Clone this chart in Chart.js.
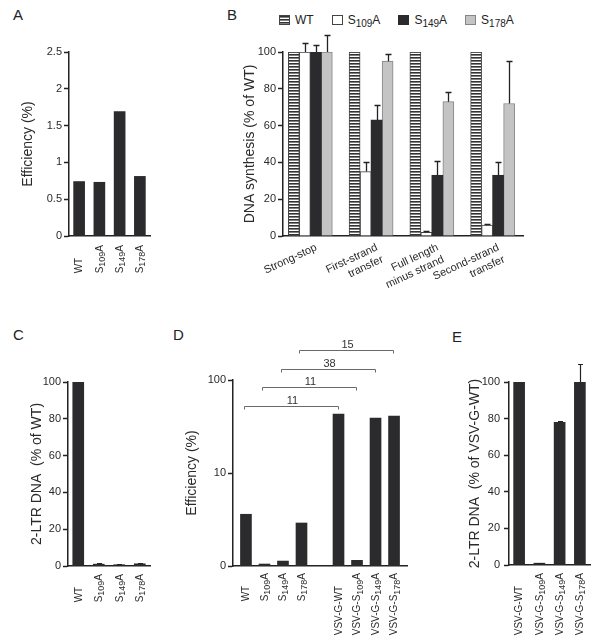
<!DOCTYPE html>
<html><head><meta charset="utf-8">
<script src="https://cdn.jsdelivr.net/npm/chart.js@4/dist/chart.umd.min.js"></script>
<style>
html,body{margin:0;padding:0;background:#fff;overflow:hidden;}
body{width:600px;height:636px;position:relative;font-family:'Liberation Sans','DejaVu Sans',Arial,sans-serif;color:#222;}
.letter{position:absolute;font-size:15px;line-height:15px;color:#222;}
#legendB{position:absolute;left:279px;top:13px;font-size:12px;line-height:14px;color:#222;display:flex;align-items:center;white-space:nowrap;}
#legendB .item{display:flex;align-items:center;margin-right:18px;}
#legendB .sw{width:11px;height:10px;box-sizing:border-box;margin-right:5px;}
#legendB sub{font-size:10px;vertical-align:-3px;line-height:0;}
canvas{position:absolute;}
</style></head><body>
<div class="letter" style="left:13px;top:7px">A</div>
<div class="letter" style="left:227px;top:7px">B</div>
<div class="letter" style="left:13px;top:327px">C</div>
<div class="letter" style="left:173px;top:327px">D</div>
<div class="letter" style="left:452px;top:329px">E</div>
<div id="legendB"></div>
<script>
// ---------- DATA ----------
// Panel A
const aCategories = ['WT', 'S₁₀₉A', 'S₁₄₉A', 'S₁₇₈A'];
const aValues = [0.74, 0.73, 1.69, 0.81];
const aTicks = [0, 0.5, 1, 1.5, 2, 2.5];
// Panel B
const bCategories = ['Strong-stop', ['First-strand', 'transfer'], ['Full length', 'minus strand'], ['Second-strand', 'transfer']];
const bSeries = ['WT', 'S₁₀₉A', 'S₁₄₉A', 'S₁₇₈A'];
const bWT = [100, 100, 100, 100];
const bS109A = [100, 35, 2, 6];
const bS149A = [100, 63, 33, 33];
const bS178A = [100, 95, 73, 72];
const bErrWT = [0, 0, 0, 0];
const bErrS109A = [5, 5, 0.6, 0.5];
const bErrS149A = [4, 8, 8, 7];
const bErrS178A = [9, 4, 5, 23];
const bTicks = [0, 20, 40, 60, 80, 100];
// Panel C
const cCategories = ['WT', 'S₁₀₉A', 'S₁₄₉A', 'S₁₇₈A'];
const cValues = [100, 1.0, 0.7, 1.2];
const cErrors = [0, 0.4, 0.3, 0.4];
const cTicks = [0, 20, 40, 60, 80, 100];
// Panel D
const dCategories = ['WT', 'S₁₀₉A', 'S₁₄₉A', 'S₁₇₈A', '', 'VSV-G-WT', 'VSV-G-S₁₀₉A', 'VSV-G-S₁₄₉A', 'VSV-G-S₁₇₈A'];
const dValues = [3.6, 1.05, 1.13, 2.9, null, 43, 1.15, 39, 41];
const dTickValues = [1, 10, 100];
const dTickLabels = ['0', '10', '100'];
const dBracketPairs = [[0, 5], [1, 6], [2, 7], [3, 8]];
const dBracketLabels = ['11', '11', '38', '15'];
// Panel E
const eCategories = ['VSV-G-WT', 'VSV-G-S₁₀₉A', 'VSV-G-S₁₄₉A', 'VSV-G-S₁₇₈A'];
const eValues = [100, 1, 78, 100];
const eErrors = [0, 0.3, 0.6, 10];
const eTicks = [0, 20, 40, 60, 80, 100];

// ---------- STYLE ----------
const FONT = "'Liberation Sans', 'DejaVu Sans', Arial, sans-serif";
const AXIS = '#222';
const TXT = '#2a2a2a';
const DARK = '#2b2b2e';
const GRAY = '#c4c4c4';
Chart.defaults.font.family = FONT;
Chart.defaults.color = TXT;
Chart.defaults.animation = false;

function hatchPattern() {
  const p = document.createElement('canvas');
  p.width = 4; p.height = 3;
  const g = p.getContext('2d');
  g.fillStyle = '#fff'; g.fillRect(0, 0, 4, 3);
  g.fillStyle = '#333'; g.fillRect(0, 0, 4, 1);
  g.fillStyle = '#808080'; g.fillRect(0, 1, 4, 1);
  return g.createPattern(p, 'repeat');
}
const HATCH = hatchPattern();

function makeCanvas(left, top, w, h) {
  const c = document.createElement('canvas');
  c.width = w; c.height = h;
  c.style.left = left + 'px'; c.style.top = top + 'px';
  c.style.width = w + 'px'; c.style.height = h + 'px';
  document.body.appendChild(c);
  return c;
}

// rich text (subscript digits drawn smaller and lowered)
const SUBMAP = { '₀': '0', '₁': '1', '₂': '2', '₃': '3', '₄': '4', '₅': '5', '₆': '6', '₇': '7', '₈': '8', '₉': '9' };
function runs(text) {
  const out = [];
  let cur = '', sub = false;
  for (const ch of text) {
    const isSub = ch in SUBMAP;
    if (isSub !== sub && cur) { out.push({ t: cur, sub }); cur = ''; }
    sub = isSub;
    cur += isSub ? SUBMAP[ch] : ch;
  }
  if (cur) out.push({ t: cur, sub });
  return out;
}
function richWidth(ctx, text, size, subSize) {
  let w = 0;
  runs(text).forEach(r => { ctx.font = (r.sub ? subSize : size) + 'px ' + FONT; w += ctx.measureText(r.t).width; });
  return w;
}
function drawRich(ctx, text, x, y, size, subSize, drop) {
  runs(text).forEach(r => {
    ctx.font = (r.sub ? subSize : size) + 'px ' + FONT;
    ctx.fillText(r.t, x, y + (r.sub ? drop : 0));
    x += ctx.measureText(r.t).width;
  });
}

// ---------- PLUGINS ----------
const errorBars = {
  id: 'errorBars',
  afterDatasetsDraw(chart, args, opts) {
    const ctx = chart.ctx, ys = chart.scales.y;
    chart.data.datasets.forEach((ds, di) => {
      if (!ds.errors) return;
      const meta = chart.getDatasetMeta(di);
      meta.data.forEach((bar, j) => {
        const e = ds.errors[j];
        if (!e) return;
        const v = meta.controller.getParsed(j).y;
        const y1 = ys.getPixelForValue(v);
        const y2 = Math.round(ys.getPixelForValue(v + e)) + 0.5;
        const x = Math.round(bar.x) + 0.5;
        ctx.save();
        ctx.strokeStyle = opts.color || '#222';
        ctx.lineWidth = opts.width || 1.2;
        ctx.beginPath();
        ctx.moveTo(x, y1); ctx.lineTo(x, y2);
        ctx.moveTo(x - opts.cap / 2, y2); ctx.lineTo(x + opts.cap / 2, y2);
        ctx.stroke();
        ctx.restore();
      });
    });
  }
};

const vLabels = {
  id: 'vLabels',
  afterDraw(chart, args, opts) {
    const labels = opts.labels;
    if (!labels) return;
    const size = opts.size || 10, subSize = opts.subSize || 9, drop = opts.drop || 2.5;
    const xs = chart.scales.x, ctx = chart.ctx;
    ctx.save();
    ctx.fillStyle = TXT;
    ctx.textBaseline = 'middle';
    ctx.textAlign = 'left';
    const groups = [];
    let cur = [];
    labels.forEach((l, i) => {
      if (l === '') { if (cur.length) groups.push(cur); cur = []; }
      else cur.push(i);
    });
    if (cur.length) groups.push(cur);
    const y0 = xs.top + opts.gap;
    groups.forEach(g => {
      const maxW = Math.max(...g.map(i => richWidth(ctx, labels[i], size, subSize)));
      g.forEach(i => {
        const x = xs.getPixelForValue(i);
        ctx.save();
        ctx.translate(x + 0.5, y0 + maxW);
        ctx.rotate(-Math.PI / 2);
        drawRich(ctx, labels[i], 0, 0, size, subSize, drop);
        ctx.restore();
      });
    });
    ctx.restore();
  }
};

const brackets = {
  id: 'brackets',
  afterDraw(chart, args, opts) {
    const xs = chart.scales.x, ctx = chart.ctx;
    const top = chart.chartArea.top;
    ctx.save();
    ctx.font = '11px ' + FONT;
    ctx.textAlign = 'center';
    ctx.textBaseline = 'alphabetic';
    opts.pairs.forEach((p, k) => {
      const x1 = Math.round(xs.getPixelForValue(p[0]) - 2) + 0.5;
      const x2 = Math.round(xs.getPixelForValue(p[1]) - 1) + 0.5;
      const y = Math.round(top + opts.base - k * opts.step) + 0.5;
      ctx.strokeStyle = '#6a6a6a';
      ctx.lineWidth = 1;
      ctx.beginPath();
      ctx.moveTo(x1, y + opts.drop); ctx.lineTo(x1, y); ctx.lineTo(x2, y); ctx.lineTo(x2, y + opts.drop);
      ctx.stroke();
      ctx.fillStyle = '#333';
      ctx.fillText(opts.labels[k], (x1 + x2) / 2 + 1, y - 3);
    });
    ctx.restore();
  }
};

// ---------- HELPERS ----------
function yAxis(title, width, extra) {
  return Object.assign({
    position: 'left',
    grid: { display: true, drawOnChartArea: false, drawTicks: true, tickLength: 5, tickWidth: 1.5, tickColor: AXIS },
    border: { display: true, color: AXIS, width: 1.5 },
    ticks: { font: { size: 11 }, color: TXT, padding: 2, autoSkip: false },
    title: { display: true, text: title, font: { size: 14 }, color: TXT, padding: 0 },
    afterFit: s => { s.width = width; }
  }, extra);
}
function linTicks(arr) {
  return {
    type: 'linear', min: arr[0], max: arr[arr.length - 1],
    afterBuildTicks: s => { s.ticks = arr.map(v => ({ value: v })); },
  };
}
function yLinear(title, width, arr) {
  const y = yAxis(title, width, linTicks(arr));
  y.ticks.callback = v => String(v);
  return y;
}
function xHidden(height, extra) {
  return Object.assign({
    type: 'category',
    grid: { display: false, drawTicks: false },
    border: { display: true, color: AXIS, width: 1.5 },
    ticks: { display: false },
    afterFit: s => { s.height = height; }
  }, extra);
}
function opts(padding, x, y, plugins) {
  return {
    responsive: false, animation: false, events: [],
    layout: { autoPadding: false, padding },
    plugins: Object.assign({ legend: { display: false }, tooltip: { enabled: false } }, plugins),
    scales: { x, y }
  };
}

// ---------- PANEL A ----------
new Chart(makeCanvas(0, 0, 200, 320), {
  type: 'bar',
  data: { labels: aCategories, datasets: [{ data: aValues, backgroundColor: DARK, borderWidth: 0, barThickness: 11 }] },
  options: opts({ left: 19.6, top: 52, right: 50, bottom: 24 },
    xHidden(60), yLinear('Efficiency (%)', 49.4, aTicks),
    { vLabels: { labels: aCategories, gap: 9 } }),
  plugins: [vLabels]
});

// ---------- PANEL B ----------
const bStyles = [
  { backgroundColor: HATCH, borderColor: '#444', borderWidth: 1 },
  { backgroundColor: '#ffffff', borderColor: '#444', borderWidth: 1 },
  { backgroundColor: DARK, borderColor: DARK, borderWidth: 0 },
  { backgroundColor: GRAY, borderColor: '#858585', borderWidth: 1 }
];
const bData = [bWT, bS109A, bS149A, bS178A];
const bErr = [bErrWT, bErrS109A, bErrS149A, bErrS178A];
const bX = {
  type: 'linear', min: -0.45, max: 3.5, offset: false,
  grid: { display: false, drawTicks: false },
  border: { display: true, color: AXIS, width: 1.5 },
  ticks: { display: true, autoSkip: false, minRotation: 25, maxRotation: 25, font: { size: 11 }, color: TXT, padding: 5,
    labelOffset: 6, callback: v => bCategories[v] },
  afterBuildTicks: s => { s.ticks = bCategories.map((_, i) => ({ value: i })); },
  afterFit: s => { s.height = 70; }
};
new Chart(makeCanvas(200, 0, 400, 320), {
  type: 'bar',
  data: {
    datasets: bSeries.map((name, k) => Object.assign({
      label: name,
      data: bData[k].map((v, i) => ({ x: i, y: v })),
      errors: bErr[k],
      barThickness: 11,
      borderSkipped: 'bottom'
    }, bStyles[k]))
  },
  options: opts({ left: 41.6, top: 52, right: 77, bottom: 14 },
    bX, yLinear('DNA synthesis (% of WT)', 41.4, bTicks),
    { errorBars: { cap: 6, width: 1.3, color: '#222' } }),
  plugins: [errorBars]
});

// legend for B (HTML, built from series names)
(function () {
  const sw = [
    'background:repeating-linear-gradient(#333 0 1px,#808080 1px 2px,#fff 2px 3px);border:1px solid #444',
    'background:#fff;border:1px solid #444',
    'background:' + DARK,
    'background:' + GRAY + ';border:1px solid #858585'
  ];
  const el = document.getElementById('legendB');
  bSeries.forEach((name, k) => {
    const html = name.replace(/[₀-₉]+/g, m => '<sub>' + m.split('').map(c => SUBMAP[c]).join('') + '</sub>');
    const it = document.createElement('div');
    it.className = 'item';
    it.innerHTML = '<span class="sw" style="' + sw[k] + '"></span><span>' + html + '</span>';
    el.appendChild(it);
  });
})();

// ---------- PANEL C ----------
new Chart(makeCanvas(0, 320, 200, 316), {
  type: 'bar',
  data: { labels: cCategories, datasets: [{ data: cValues, errors: cErrors, backgroundColor: DARK, borderWidth: 0, barThickness: 11 }] },
  options: opts({ left: 28.6, top: 62, right: 50, bottom: 10 },
    xHidden(60), yLinear('2-LTR DNA  (% of WT)', 39.4, cTicks),
    { vLabels: { labels: cCategories, gap: 8 }, errorBars: { cap: 5, width: 1.2, color: '#222' } }),
  plugins: [vLabels, errorBars]
});

// ---------- PANEL D ----------
const dY = yAxis('Efficiency (%)', 49.4, {
  type: 'logarithmic', min: dTickValues[0], max: dTickValues[dTickValues.length - 1],
  afterBuildTicks: s => { s.ticks = dTickValues.map(v => ({ value: v })); }
});
dY.ticks.callback = (v, i) => dTickLabels[i];
const dX = xHidden(68, { type: 'linear', min: -0.7, max: 8.7, offset: false });
new Chart(makeCanvas(170, 320, 280, 316), {
  type: 'bar',
  data: {
    datasets: [{
      data: dValues.map((v, i) => ({ x: i, y: v })).filter(p => p.y !== null),
      backgroundColor: DARK, borderWidth: 0, barThickness: 11
    }]
  },
  options: opts({ left: 13.6, top: 60, right: 43, bottom: 2 }, dX, dY, {
    vLabels: { labels: dCategories, gap: 7 },
    brackets: { pairs: dBracketPairs, labels: dBracketLabels, base: 26, step: 18.7, drop: 3 }
  }),
  plugins: [vLabels, brackets]
});

// ---------- PANEL E ----------
const eY = yLinear('2-LTR DNA  (% of VSV-G-WT)', 42.4, eTicks);
eY.ticks.padding = 4;
new Chart(makeCanvas(450, 320, 150, 316), {
  type: 'bar',
  data: { labels: eCategories, datasets: [{ data: eValues, errors: eErrors, backgroundColor: DARK, borderWidth: 0, barThickness: 11 }] },
  options: opts({ left: 16.6, top: 62, right: 10, bottom: 1 },
    xHidden(70), eY,
    { vLabels: { labels: eCategories, gap: 8 }, errorBars: { cap: 5, width: 1.2, color: '#222' } }),
  plugins: [vLabels, errorBars]
});
</script>
</body></html>
